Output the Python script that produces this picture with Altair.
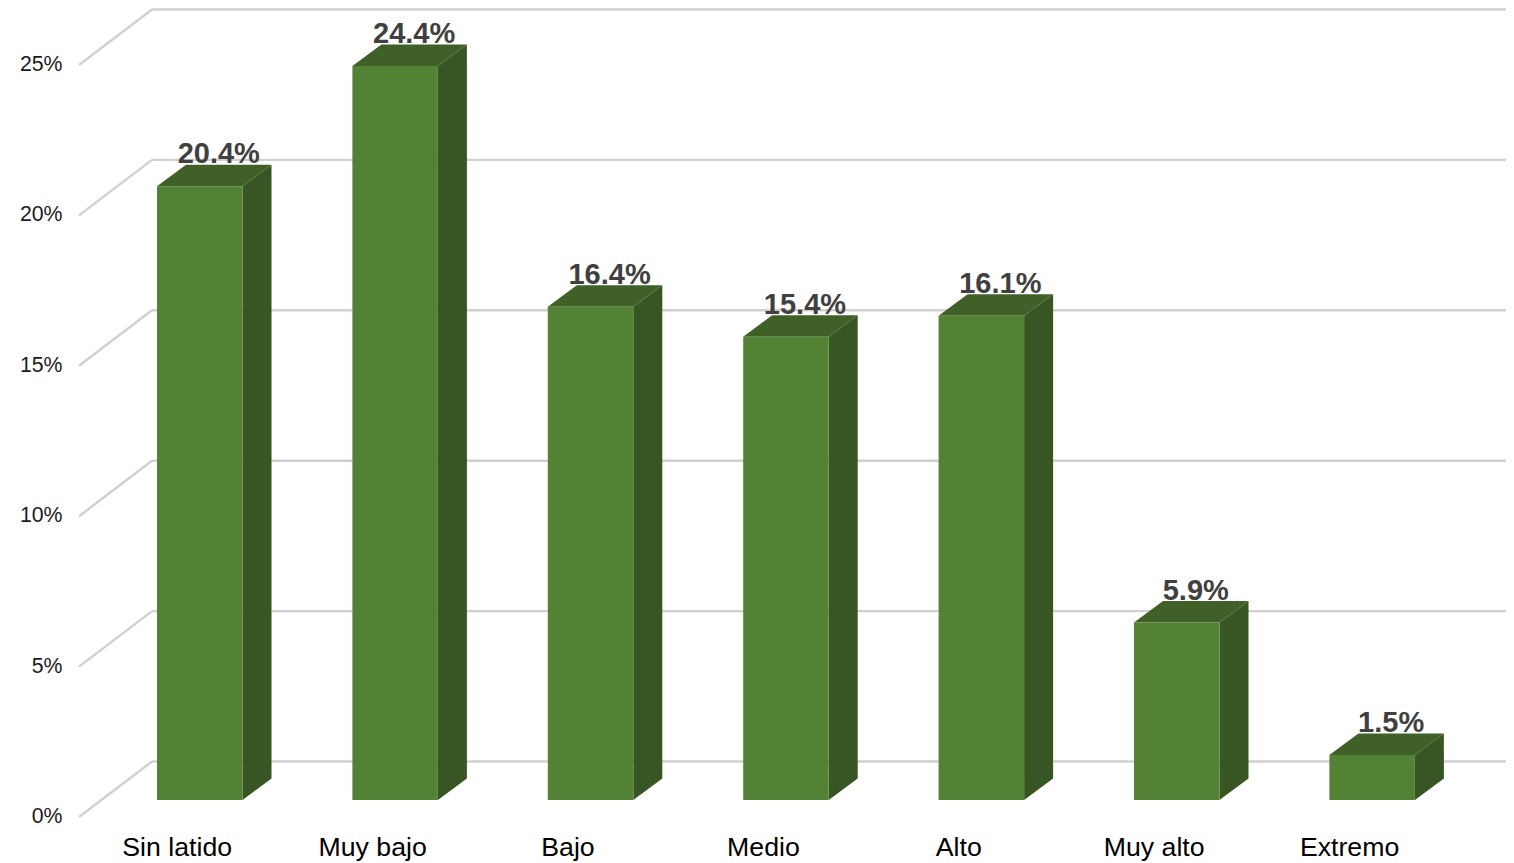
import json
import altair as alt
import pandas as pd

categories = ["Sin latido", "Muy bajo", "Bajo", "Medio", "Alto", "Muy alto", "Extremo"]
values = [20.4, 24.4, 16.4, 15.4, 16.1, 5.9, 1.5]
ticks = [0, 5, 10, 15, 20, 25]

# Scale geometry: one x unit is a category slot, y units are percentage points
PX_X = 195.4
PX_Y = 30.08
W, H = 1427, 808
wall_dx, wall_dy = 73 / PX_X, 55.5 / PX_Y
bar_left, bar_w = 78 / PX_X, 85.5 / PX_X
bar_base = 17 / PX_Y
depth_dx, depth_dy = 29 / PX_X, 21.5 / PX_Y

FONT = "Liberation Sans"
GRID = "#d0d0d0"

x_scale = alt.Scale(domain=[0, W / PX_X], nice=False, zero=False)
y_scale = alt.Scale(domain=[0, H / PX_Y], nice=False, zero=False)

x_axis = alt.Axis(
    title=None, values=[i + 0.5 for i in range(len(categories))],
    labelExpr=f"{json.dumps(categories)}[datum.value - 0.5]",
    domain=False, ticks=False, grid=False, labelFont=FONT, labelFontSize=26.7,
    labelColor="#000000", labelPadding=17, labelFlush=False, labelOverlap=False,
    labelBound=False, labelAngle=0,
)
y_axis = alt.Axis(
    title=None, values=ticks, labelExpr="datum.value + '%'",
    domain=False, ticks=False, grid=False, labelFont=FONT, labelFontSize=21.3,
    labelColor="#1a1a1a", labelPadding=17, labelOffset=-0.5, labelFlush=False,
    labelOverlap=False, labelBound=False,
)

bars = pd.DataFrame({
    "cat": categories,
    "x0": [i + bar_left for i in range(len(categories))],
    "v": values,
})
bars["x1"] = bars.x0 + bar_w
bars["top"] = bars.v + bar_base
bars["base"] = bar_base
bars["lx"] = bars.x0 + bar_w / 2 + 19 / PX_X
bars["label"] = [f"{v:.1f}%" for v in values]

side_rows, top_rows = [], []
for b in bars.itertuples():
    side_rows += [
        {"cat": b.cat, "x": b.x1, "y": b.top, "y2": b.base},
        {"cat": b.cat, "x": b.x1 + depth_dx, "y": b.top + depth_dy, "y2": b.base + depth_dy},
    ]
    top_rows += [
        {"cat": b.cat, "x": b.x0, "x2": b.x1, "y": b.top},
        {"cat": b.cat, "x": b.x0 + depth_dx, "x2": b.x1 + depth_dx, "y": b.top + depth_dy},
    ]
side = pd.DataFrame(side_rows)
top = pd.DataFrame(top_rows)

grid = pd.DataFrame({"t": ticks})
grid["wx"] = wall_dx
grid["wy"] = grid.t + wall_dy
grid["x0"] = 0.0
grid["xe"] = W / PX_X

X = lambda f: alt.X(f, scale=x_scale, axis=x_axis)
Y = lambda f: alt.Y(f, scale=y_scale, axis=y_axis)

diag = alt.Chart(grid).mark_rule(color=GRID, strokeWidth=2.4).encode(
    x=X("x0:Q"), x2="wx:Q", y=Y("t:Q"), y2="wy:Q",
)
wall = alt.Chart(grid).mark_rule(color=GRID, strokeWidth=2.4).encode(
    x=X("wx:Q"), x2="xe:Q", y=Y("wy:Q"),
)
front = alt.Chart(bars).mark_bar(color="#548235").encode(
    x=X("x0:Q"), x2="x1:Q", y=Y("top:Q"), y2="base:Q",
)
side_face = alt.Chart(side).mark_area(color="#375623", opacity=1).encode(
    x=X("x:Q"), y=Y("y:Q"), y2="y2:Q", detail="cat:N",
)
top_face = alt.Chart(top).mark_area(color="#3f6128", opacity=1, orient="horizontal").encode(
    x=X("x:Q"), x2="x2:Q", y=Y("y:Q"), detail="cat:N",
)
text = alt.Chart(bars).mark_text(
    font=FONT, fontSize=29, fontWeight="bold", color="#404040",
    baseline="alphabetic", align="center", dy=-23,
).encode(
    x=X("lx:Q"), y=Y("top:Q"), text="label:N",
)

chart = alt.layer(diag, wall, side_face, top_face, front, text).properties(
    width=W, height=H,
    autosize=alt.AutoSizeParams(type="none"),
    padding={"left": 71, "top": 1, "right": 0, "bottom": 46},
).configure_view(stroke=None)

chart.save("out.html", embed_options={"renderer": "svg", "actions": False})
